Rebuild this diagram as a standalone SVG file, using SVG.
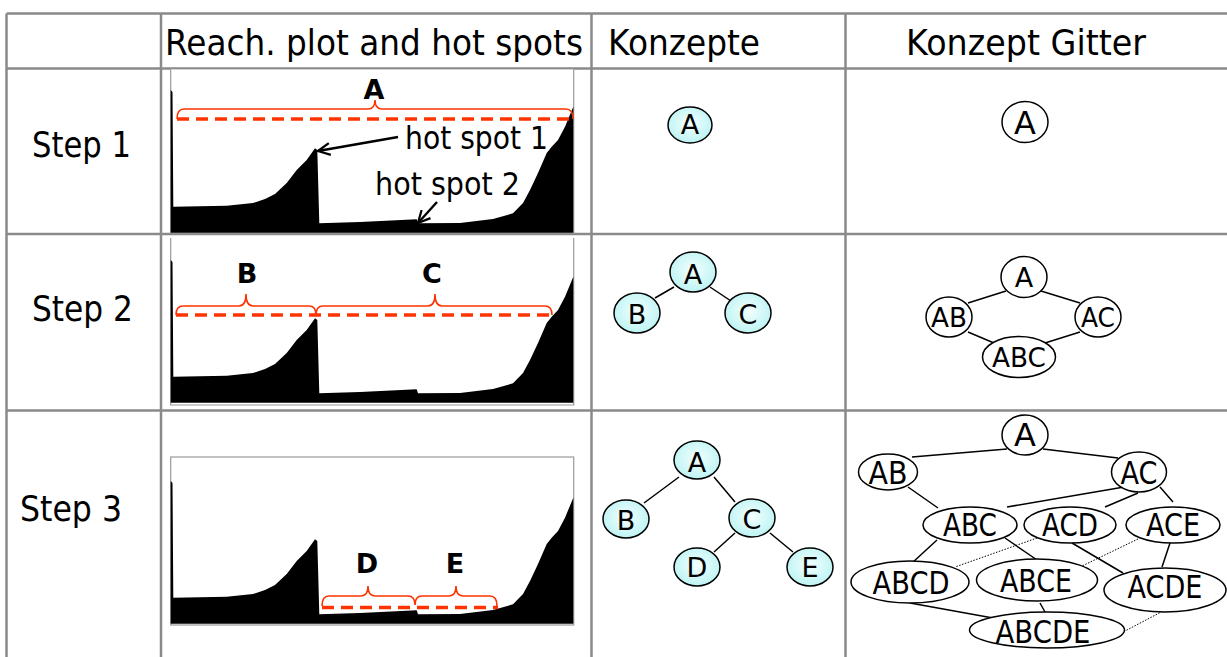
<svg xmlns="http://www.w3.org/2000/svg" xmlns:xlink="http://www.w3.org/1999/xlink" width="1227" height="657" viewBox="0 0 1227 657">
<style>
.grid{stroke:#8a8a8a;stroke-width:2.5;fill:none}
.frame{stroke:#9a9a9a;stroke-width:1.2;fill:#fff}
.t{font-family:"DejaVu Sans","Liberation Sans",sans-serif;fill:#000}
.hd{font-size:36px}
.lbl{font-size:27px;font-weight:bold;text-anchor:middle}
.hs{font-size:32px}
.cn{fill:url(#cy);stroke:#000;stroke-width:1.5}
.ln{fill:#fff;stroke:#000;stroke-width:1.5}
.nt{font-size:27px;text-anchor:middle}
.lt{font-size:32px;text-anchor:middle}
.edge{stroke:#000;stroke-width:1.5;fill:none}
.dot{stroke:#000;stroke-width:1;stroke-dasharray:1.5 1.5;fill:none}
.dash{stroke:#ff3300;stroke-width:3.5;stroke-dasharray:12 7;fill:none}
.brace{stroke:#ff3300;stroke-width:1.6;fill:none}
.arr{stroke:#000;stroke-width:2.4;fill:none}
</style>
<defs>
<radialGradient id="cy" cx="50%" cy="45%" r="60%">
<stop offset="0" stop-color="#f4ffff"/>
<stop offset="1" stop-color="#b8f2f2"/>
</radialGradient>
<marker id="ah" viewBox="0 0 14 14" refX="13" refY="7" markerWidth="14" markerHeight="14" markerUnits="userSpaceOnUse" orient="auto">
<path d="M1,1 L13,7 L1,13" fill="none" stroke="#000" stroke-width="2.2"/>
</marker>
<path id="plot" d="M170.7,232.7 V90 L172.5,92 L173.3,206.7 L226.7,205.7 L253,203 L265,199 L275,194 L286.7,183 L296.7,170 L306.7,160 L315,148.3 L317.3,150 L319.3,223.3 L360,222 L416.7,219.3 L418,223.3 L460,223 L493,219 L513,213.3 L523,203 L530,190 L538,173 L546.7,153 L551.7,146.7 L558,140 L565,126.7 L573.3,106.7 V232.7 Z" fill="#000"/>
</defs>
<rect width="1227" height="657" fill="#fff"/>

<g id="table">
<path class="grid" d="M6.5,13.5 H1227 M6.5,68.5 H1227 M6.5,234 H1227 M6.5,410.5 H1227 M6.5,13.5 V657 M161,13.5 V657 M591.5,13.5 V657 M845.5,13.5 V657"/>
<text class="t hd" x="165" y="55" textLength="418" lengthAdjust="spacingAndGlyphs">Reach. plot and hot spots</text>
<text class="t hd" x="608" y="55" textLength="152" lengthAdjust="spacingAndGlyphs">Konzepte</text>
<text class="t hd" x="906" y="55" textLength="240" lengthAdjust="spacingAndGlyphs">Konzept Gitter</text>
<text class="t hd" x="32" y="157" textLength="99" lengthAdjust="spacingAndGlyphs">Step 1</text>
<text class="t hd" x="32" y="321" textLength="101" lengthAdjust="spacingAndGlyphs">Step 2</text>
<text class="t hd" x="20" y="521" textLength="102" lengthAdjust="spacingAndGlyphs">Step 3</text>
</g>

<g id="plot1">
<path class="frame" d="M170.7,69.5 V233 H573.7 V69.5"/>
<use xlink:href="#plot"/>
<path class="dash" d="M177,119 H573"/>
<path class="brace" d="M177,119 Q177,109 184,109 H368 Q375,109 375,100 Q375,109 382,109 H566 Q573,109 573,119"/>
<text class="t lbl" x="374" y="99">A</text>
<text class="t hs" x="405" y="149" textLength="143" lengthAdjust="spacingAndGlyphs">hot spot 1</text>
<text class="t hs" x="375" y="195" textLength="145" lengthAdjust="spacingAndGlyphs">hot spot 2</text>
<path class="arr" d="M398,137 L318,151" marker-end="url(#ah)"/>
<path class="arr" d="M437,202 L418,223" marker-end="url(#ah)"/>
</g>

<g id="plot2">
<path class="frame" d="M170.7,238 V405 H573.7 V238"/>
<use xlink:href="#plot" transform="translate(0,170)"/>
<path class="dash" d="M176,315 H552"/>
<path class="brace" d="M176,315 Q176,306 183,306 H239 Q246,306 246,294 Q246,306 253,306 H309 Q316,306 316,315 Q316,306 323,306 H428 Q435,306 435,294 Q435,306 442,306 H545 Q552,306 552,315"/>
<text class="t lbl" x="247" y="283">B</text>
<text class="t lbl" x="432" y="283">C</text>
</g>

<g id="plot3">
<rect class="frame" x="170.7" y="457" width="403" height="168"/>
<use xlink:href="#plot" transform="translate(0,391)"/>
<path class="dash" d="M322,607.5 H498"/>
<path class="brace" d="M322,606 Q322,596 329,596 H361 Q368,596 368,586 Q368,596 375,596 H408 Q415,596 415,605 Q415,596 422,596 H449 Q456,596 456,586 Q456,596 463,596 H490 Q497,596 497,606"/>
<text class="t lbl" x="367" y="573">D</text>
<text class="t lbl" x="455" y="573">E</text>
</g>

<g id="connectors">
<path class="edge" d="M674,287 L655,298 M710,287 L731,301"/>
<path class="edge" d="M1006,291 L968,303 M1041,291 L1080,303 M968,332 L994,343 M1080,332 L1045,343"/>
<path class="edge" d="M679,477 L644,503 M714,477 L735,502 M735,533 L714,552 M770,533 L793,552"/>
<path class="edge" d="M1007,449 L912,457 M1043,449 L1118,458 M908,487 L938,508 M1130,486 L1007,507 M1138,493 L1105,507 M1160,487 L1173,502 M937,540 L912,563 M1005,538 L1040,562 M1072,543 L1123,573 M1170,543 L1162,567 M910,603 L993,618 M1040,603 L1045,612"/>
<path class="dot" d="M1037,538 L955,567 M1138,539 L1082,566 M1165,610 L1125,631"/>
</g>

<g id="c1-A"><ellipse class="cn" cx="690" cy="125" rx="22" ry="18"/><text class="t nt" x="690" y="134">A</text></g>
<g id="g1-A"><ellipse class="ln" cx="1025" cy="122" rx="23" ry="20.5"/><text class="t lt" x="1025" y="134">A</text></g>

<g id="c2-A"><ellipse class="cn" cx="693" cy="272" rx="23" ry="20"/><text class="t nt" x="693" y="284">A</text></g>
<g id="c2-B"><ellipse class="cn" cx="637" cy="313" rx="23" ry="20"/><text class="t nt" x="637" y="324">B</text></g>
<g id="c2-C"><ellipse class="cn" cx="748" cy="313" rx="23" ry="20"/><text class="t nt" x="748" y="324">C</text></g>

<g id="g2-A"><ellipse class="ln" cx="1024" cy="277" rx="23" ry="20.5"/><text class="t nt" x="1024" y="287">A</text></g>
<g id="g2-AB"><ellipse class="ln" cx="949" cy="317" rx="23" ry="20"/><text class="t nt" x="949" y="327" textLength="36" lengthAdjust="spacingAndGlyphs">AB</text></g>
<g id="g2-AC"><ellipse class="ln" cx="1098" cy="317" rx="23" ry="20"/><text class="t nt" x="1098" y="327" textLength="34" lengthAdjust="spacingAndGlyphs">AC</text></g>
<g id="g2-ABC"><ellipse class="ln" cx="1019" cy="357" rx="36.5" ry="20.5"/><text class="t nt" x="1019" y="367" textLength="54" lengthAdjust="spacingAndGlyphs">ABC</text></g>

<g id="c3-A"><ellipse class="cn" cx="697" cy="460" rx="23" ry="19"/><text class="t nt" x="697" y="472">A</text></g>
<g id="c3-B"><ellipse class="cn" cx="626" cy="519" rx="23" ry="19"/><text class="t nt" x="626" y="530">B</text></g>
<g id="c3-C"><ellipse class="cn" cx="752" cy="518" rx="23" ry="19"/><text class="t nt" x="752" y="529">C</text></g>
<g id="c3-D"><ellipse class="cn" cx="697" cy="567" rx="23" ry="19"/><text class="t nt" x="697" y="577">D</text></g>
<g id="c3-E"><ellipse class="cn" cx="810" cy="567" rx="23" ry="19"/><text class="t nt" x="810" y="577">E</text></g>

<g id="g3-A"><ellipse class="ln" cx="1025" cy="435" rx="23" ry="20"/><text class="t lt" x="1025" y="446">A</text></g>
<g id="g3-AB"><ellipse class="ln" cx="888" cy="472" rx="29.5" ry="18"/><text class="t lt" x="888" y="484" textLength="39" lengthAdjust="spacingAndGlyphs">AB</text></g>
<g id="g3-AC"><ellipse class="ln" cx="1139" cy="472" rx="27.5" ry="20"/><text class="t lt" x="1139" y="484" textLength="37" lengthAdjust="spacingAndGlyphs">AC</text></g>
<g id="g3-ABC"><ellipse class="ln" cx="970" cy="525" rx="47" ry="18"/><text class="t lt" x="970" y="536" textLength="54" lengthAdjust="spacingAndGlyphs">ABC</text></g>
<g id="g3-ACD"><ellipse class="ln" cx="1070" cy="525" rx="46" ry="18"/><text class="t lt" x="1070" y="536" textLength="56" lengthAdjust="spacingAndGlyphs">ACD</text></g>
<g id="g3-ACE"><ellipse class="ln" cx="1173" cy="525" rx="47" ry="18"/><text class="t lt" x="1173" y="536" textLength="54" lengthAdjust="spacingAndGlyphs">ACE</text></g>
<g id="g3-ABCD"><ellipse class="ln" cx="910" cy="582" rx="59" ry="21"/><text class="t lt" x="911" y="594" textLength="77" lengthAdjust="spacingAndGlyphs">ABCD</text></g>
<g id="g3-ABCE"><ellipse class="ln" cx="1037" cy="580" rx="60.5" ry="21"/><text class="t lt" x="1036" y="592" textLength="72" lengthAdjust="spacingAndGlyphs">ABCE</text></g>
<g id="g3-ACDE"><ellipse class="ln" cx="1165" cy="590" rx="61" ry="22"/><text class="t lt" x="1165" y="598" textLength="75" lengthAdjust="spacingAndGlyphs">ACDE</text></g>
<g id="g3-ABCDE"><ellipse class="ln" cx="1047" cy="630" rx="77.5" ry="18"/><text class="t lt" x="1043" y="643" textLength="95" lengthAdjust="spacingAndGlyphs">ABCDE</text></g>
</svg>
